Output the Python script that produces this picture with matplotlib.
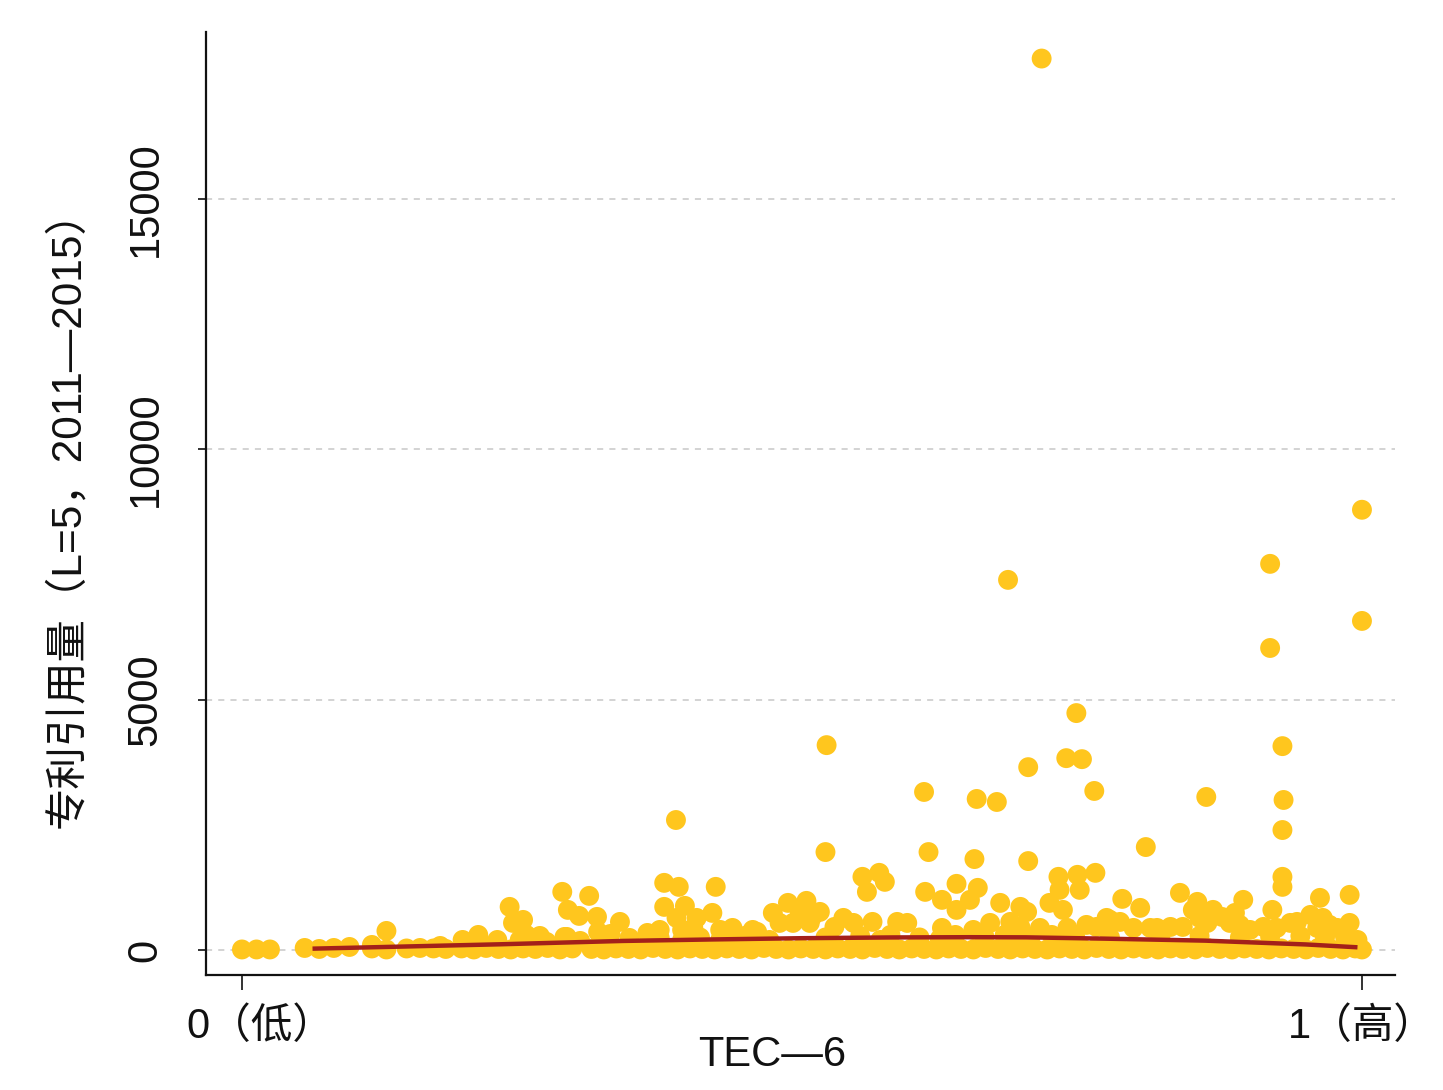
import matplotlib
matplotlib.use("Agg")
import matplotlib.pyplot as plt
import matplotlib.transforms as mtransforms

plt.rcParams['font.family'] = ['Liberation Sans', 'Noto Sans CJK SC', 'DejaVu Sans']

# ---- data ----
xtick_vals = [0, 1]
xtick_labels = ['0（低）', '1（高）']
ytick_vals = [0, 5000, 10000, 15000]
ytick_labels = ['0', '5000', '10000', '15000']
x_label = 'TEC—6'
y_label = '专利引用量（L=5，2011—2015）'

outlier_pts = [
    (0.714, 17800), (0.684, 7390), (0.918, 7710), (1.000, 8790), (0.918, 6030),
    (1.000, 6570), (0.745, 4730), (0.929, 4070), (0.522, 4090), (0.736, 3830),
    (0.750, 3810), (0.702, 3650), (0.609, 3155), (0.656, 3015), (0.674, 2955),
    (0.761, 3175), (0.861, 3055), (0.930, 2995), (0.3875, 2595), (0.929, 2395),
    (0.521, 1955), (0.613, 1955), (0.807, 2055), (0.654, 1815), (0.702, 1775),
]

mid_pts = [
    (0.929, 1460), (0.929, 1260), (0.762, 1540), (0.554, 1460), (0.569, 1540),
    (0.574, 1360), (0.558, 1160), (0.610, 1160), (0.625, 1000), (0.638, 1320),
    (0.657, 1240), (0.650, 1000), (0.638, 800), (0.677, 940), (0.695, 860),
    (0.701, 760), (0.729, 1460), (0.746, 1500), (0.748, 1200), (0.730, 1200),
    (0.721, 940), (0.733, 800), (0.516, 760), (0.509, 660), (0.537, 640),
    (0.546, 540), (0.563, 560), (0.585, 560), (0.594, 540), (0.529, 460),
    (0.625, 440), (0.653, 400), (0.668, 540), (0.686, 560), (0.695, 460),
    (0.7125, 440), (0.737, 440), (0.754, 500), (0.786, 1020), (0.802, 840),
    (0.8375, 1140), (0.853, 960), (0.894, 1000), (0.920, 800), (0.9625, 1040),
    (0.989, 1100), (0.989, 540), (0.772, 640), (0.784, 560), (0.817, 440),
    (0.829, 460), (0.849, 800), (0.855, 640), (0.867, 800), (0.875, 660),
    (0.8866, 740), (0.891, 500), (0.912, 460), (0.942, 560), (0.954, 700),
    (0.965, 640), (0.978, 440), (0.996, 200), (0.286, 1160), (0.310, 1080),
    (0.291, 800), (0.301, 680), (0.317, 660), (0.3375, 560), (0.318, 360),
    (0.329, 320), (0.377, 1340), (0.390, 1260), (0.423, 1260), (0.377, 860),
    (0.3955, 880), (0.388, 640), (0.406, 640), (0.420, 740), (0.373, 400),
    (0.393, 400), (0.403, 440), (0.427, 400), (0.438, 440), (0.474, 740),
    (0.4875, 940), (0.504, 980), (0.498, 740), (0.510, 700), (0.460, 360),
    (0.251, 600), (0.129, 380), (0.197, 200), (0.211, 300), (0.228, 200),
    (0.239, 860), (0.242, 540), (0.248, 200), (0.260, 200), (0.272, 160),
    (0.288, 260), (0.116, 100),
]

row2_pts = [
    (0.254, 300), (0.266, 280), (0.290, 260), (0.346, 240), (0.362, 340),
    (0.409, 250), (0.449, 280), (0.456, 400), (0.471, 200), (0.480, 540),
    (0.492, 540), (0.507, 540), (0.521, 250), (0.552, 280), (0.579, 300),
    (0.605, 250), (0.637, 300), (0.663, 260), (0.681, 300), (0.704, 260),
    (0.723, 300), (0.744, 260), (0.763, 460), (0.775, 600), (0.796, 440),
    (0.811, 440), (0.840, 460), (0.862, 540), (0.882, 540), (0.900, 400),
    (0.924, 440), (0.936, 540), (0.960, 440), (0.971, 500), (0.985, 250),
    (0.775, 250), (0.820, 250), (0.855, 280), (0.891, 250), (0.918, 260),
    (0.945, 280), (0.967, 250), (0.570, 200), (0.623, 220), (0.690, 200),
    (0.735, 220), (0.427, 200), (0.393, 200), (0.373, 240), (0.302, 180),
    (0.2125, 150), (0.177, 80), (0.096, 60),
]

base_pts = [
    (0.000, 10), (0.013, 10), (0.025, 10), (0.056, 40), (0.069, 20), (0.082, 40),
    (0.116, 30), (0.129, 10), (0.147, 30), (0.159, 40), (0.171, 30), (0.182, 20),
    (0.196, 30), (0.207, 10), (0.218, 40), (0.229, 20), (0.240, 10), (0.251, 30),
    (0.262, 20), (0.273, 40), (0.284, 10), (0.295, 30), (0.312, 20), (0.323, 10),
    (0.334, 30), (0.345, 20), (0.356, 10), (0.367, 40), (0.378, 20), (0.389, 10),
    (0.400, 30), (0.411, 20), (0.422, 10), (0.433, 30), (0.444, 20), (0.455, 10),
    (0.466, 40), (0.477, 20), (0.488, 10), (0.499, 30), (0.510, 20), (0.521, 10),
    (0.532, 30), (0.543, 20), (0.554, 10), (0.565, 40), (0.576, 20), (0.587, 10),
    (0.598, 30), (0.609, 20), (0.620, 10), (0.631, 30), (0.642, 20), (0.653, 10),
    (0.664, 40), (0.675, 20), (0.686, 10), (0.697, 30), (0.708, 20), (0.719, 10),
    (0.730, 30), (0.741, 20), (0.752, 10), (0.763, 40), (0.774, 20), (0.785, 10),
    (0.796, 30), (0.807, 20), (0.818, 10), (0.829, 30), (0.840, 20), (0.851, 10),
    (0.862, 40), (0.873, 20), (0.884, 10), (0.895, 30), (0.906, 20), (0.917, 10),
    (0.928, 30), (0.939, 20), (0.950, 10), (0.961, 40), (0.972, 20), (0.983, 10),
    (0.994, 30), (1.000, 10),
]

fit_x = [0.063, 0.14, 0.23, 0.34, 0.42, 0.50, 0.58, 0.65, 0.70, 0.77, 0.86, 0.95, 0.996]
fit_y = [26, 66, 113, 180, 210, 235, 250, 255, 252, 226, 186, 110, 53]

# ---- styling ----
dot_color = '#FFC61E'
line_color = '#A3201A'

fig = plt.figure(figsize=(14.43, 10.90), dpi=100)
ax = fig.add_axes([206/1443, 1 - 975/1090, (1395-206)/1443, (975-32)/1090])

for grp in (base_pts, row2_pts, mid_pts, outlier_pts):
    xs = [p[0] for p in grp]
    ys = [p[1] for p in grp]
    ax.scatter(xs, ys, s=205, color=dot_color, edgecolors='none', zorder=3)

ax.plot(fit_x, fit_y, color=line_color, lw=3.2, zorder=4, solid_capstyle='butt')

ax.set_xlim(-0.0321, 1.0295)
ax.set_ylim(-500, 18330)

ax.set_yticks(ytick_vals)
ax.set_yticklabels(ytick_labels, rotation=90, va='center')
ax.set_xticks(xtick_vals)
ax.set_xticklabels(xtick_labels)

ax.yaxis.grid(True, linestyle=(0, (4, 4)), color='#C8C8C8', lw=1.1, zorder=0)
ax.xaxis.grid(False)
ax.set_axisbelow(True)

for s in ('top', 'right'):
    ax.spines[s].set_visible(False)
for s in ('left', 'bottom'):
    ax.spines[s].set_linewidth(1.6)
    ax.spines[s].set_color('#111111')

ax.tick_params(axis='y', length=6, width=1.2, pad=23, labelsize=30, colors='#111111')
ax.tick_params(axis='x', length=11, width=1.2, pad=12, labelsize=30, colors='#111111')

# shift the left x tick label a little to the right, as in the reference
lbl0 = ax.get_xticklabels()[0]
lbl0.set_transform(lbl0.get_transform() + mtransforms.ScaledTranslation(18/100, 0, fig.dpi_scale_trans))

ax.set_xlabel(x_label, fontsize=30, color='#111111')
ax.xaxis.set_label_coords((772-206)/(1395-206), -(1055-975)/(975-32), transform=ax.transAxes)
ax.xaxis.label.set_va('center')
ax.set_ylabel(y_label, fontsize=30.5, color='#111111')
ax.yaxis.set_label_coords(-(206-68)/(1395-206), (975-509)/(975-32), transform=ax.transAxes)
ax.yaxis.label.set_va('center')

fig.savefig('out.png', dpi=100, facecolor='white')
